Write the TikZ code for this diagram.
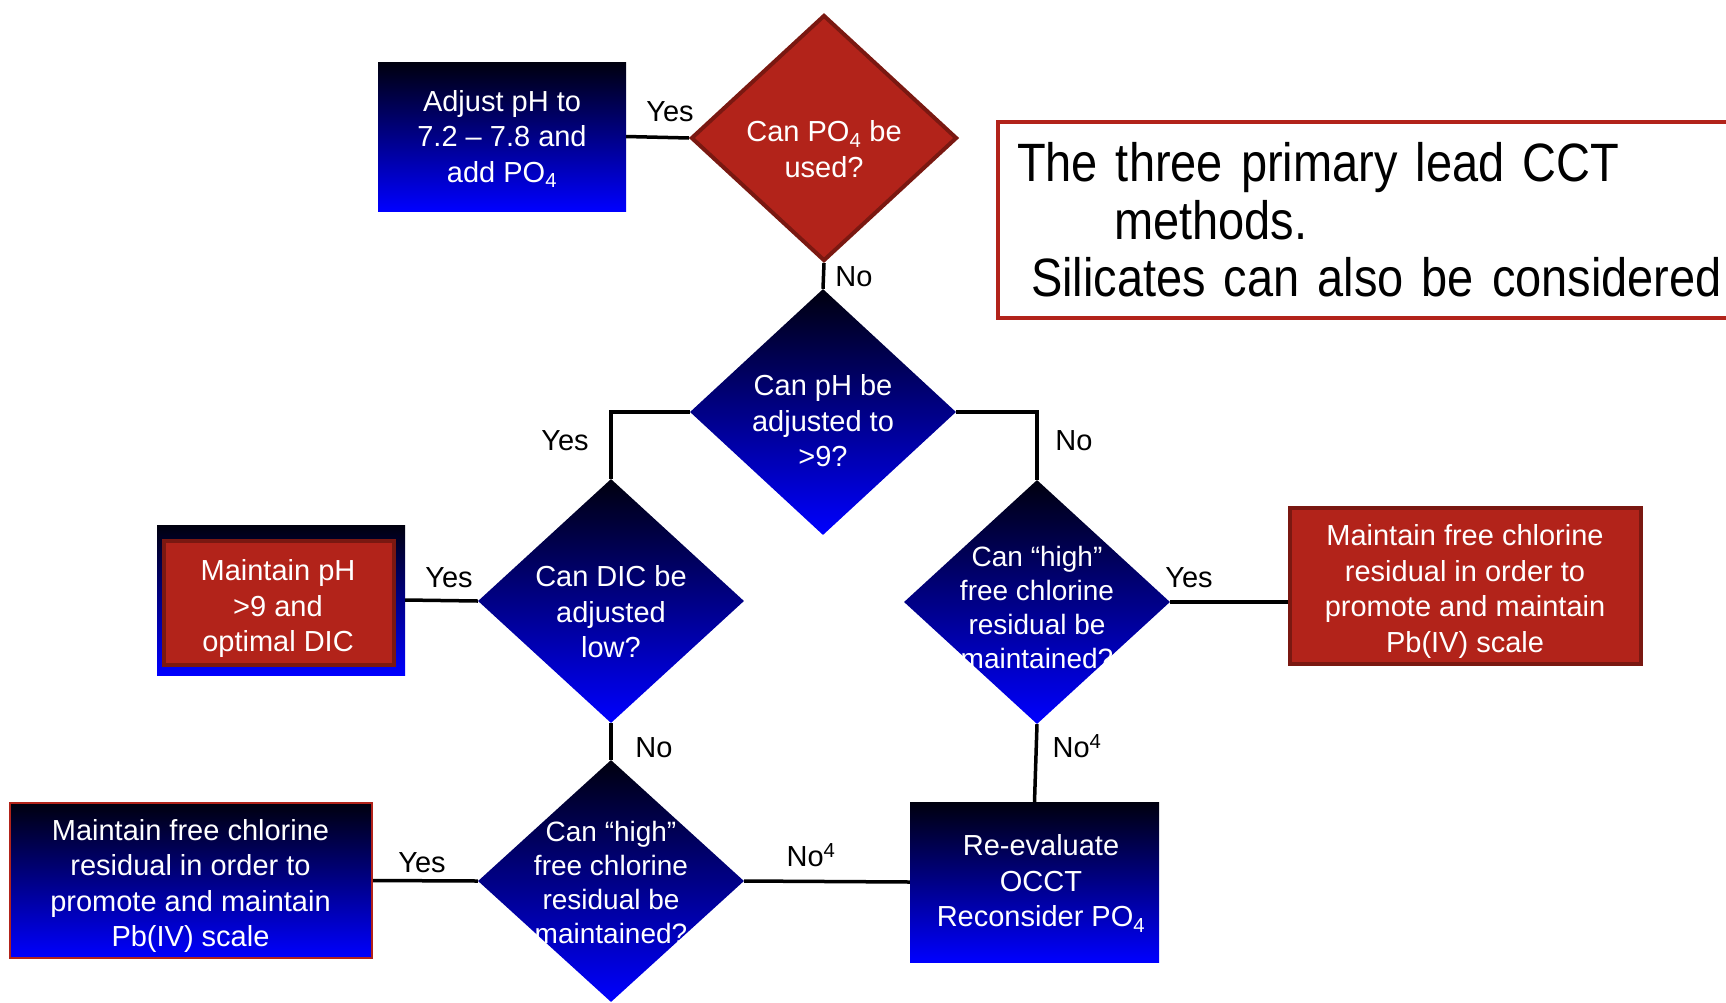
\documentclass[tikz,border=0pt]{standalone}
\usepackage{fontspec}
\setmainfont{Liberation Sans}
\newfontfamily\notefont[FakeStretch=0.87]{Liberation Sans}
\newcommand\notesize{\notefont\fontsize{54}{57.5}\selectfont\spaceskip=10pt plus 3pt minus 2pt\relax}
\usetikzlibrary{shapes.geometric,positioning}
\definecolor{boxred}{RGB}{178,35,26}
\definecolor{edgered}{RGB}{122,24,17}
\definecolor{deepblue}{RGB}{0,0,255}
\definecolor{nightblue}{RGB}{0,0,14}

\begin{document}
\begin{tikzpicture}[
  x=1pt, y=-1pt,
  font=\fontsize{29}{35.5}\selectfont,
  con/.style={line width=3.5pt, black},
  blk/.style={rectangle, align=center, text=white, inner sep=4pt,
              top color=nightblue, bottom color=deepblue},
  redblk/.style={rectangle, align=center, text=white, inner sep=4pt,
                 fill=boxred, draw=edgered, line width=4pt},
  dia/.style={diamond, inner sep=0pt, top color=nightblue, bottom color=deepblue},
  dtxt/.style={align=center, text=white, inner sep=0pt},
  ctxt/.style={dtxt, font=\fontsize{28}{34}\selectfont},
  lbl/.style={inner sep=0pt},
]
\clip (0,0) rectangle (1726,1002);

%% ===== TOP: PHOSPHATE =====
\node[blk, minimum width=248, minimum height=149] (adj) at (502,136.5) {};
\node[dtxt] (adjt) at (502,139) {Adjust pH to\\7.2 -- 7.8 and\\add PO\textsubscript{4}};

\node[diamond, inner sep=0pt, fill=boxred, draw=edgered, line width=4pt,
      minimum width=266, minimum height=246] (pdia) at (824,138) {};
\node[dtxt] (pdiat) at (824,149) {Can PO\textsubscript{4} be\\used?};

\node[draw=boxred, line width=4pt, anchor=north west, minimum width=760,
      minimum height=196, text width=722, inner xsep=19pt, align=left,
      font=\notesize] (note) at (996,120)
    {The three primary lead CCT\\\hspace*{97pt}methods.\\
     \hspace*{14pt}Silicates can also be considered};

%% ===== MIDDLE: PH AND DIC =====
\node[dia, minimum width=266, minimum height=246] (phdia) at (823,412) {};
\node[dtxt] (phdiat) at (823,421) {Can pH be\\adjusted to\\>9?};

\node[dia, minimum width=266, minimum height=244] (dicdia) at (611,601) {};
\node[dtxt] (dicdiat) at (611,612) {Can DIC be\\adjusted\\low?};

\node[blk, minimum width=248, minimum height=150] (mph) at (281,600) {};
\node[redblk, minimum width=230, minimum height=124] (mphin) at (279,603) {};
\node[dtxt] (mphint) at (278,608.5) {Maintain pH\\>9 and\\optimal DIC};

\node[dia, minimum width=266, minimum height=244] (cldia) at (1037,602) {};
\node[ctxt] (cldiat) at (1037,607) {Can “high”\\free chlorine\\residual be\\maintained?};

\node[redblk, minimum width=351, minimum height=156] (rbox) at (1465.5,586) {};
\node[dtxt] (rboxt) at (1465,591.5)
    {Maintain free chlorine\\residual in order to\\promote and maintain\\Pb(IV) scale};

%% ===== BOTTOM: CHLORINE AND RE-EVALUATION =====
\node[dia, minimum width=266, minimum height=242] (bdia) at (611,881) {};
\node[ctxt] (bdiat) at (611,882) {Can “high”\\free chlorine\\residual be\\maintained?};

\node[blk, minimum width=249, minimum height=160] (reval) at (1034.5,882) {};
\node[dtxt] (revalt) at (1041,883.5) {Re-evaluate\\OCCT\\Reconsider PO\textsubscript{4}};

\node[blk, draw=boxred, line width=2pt, minimum width=362, minimum height=155] (blbox) at (191,880.5) {};
\node[dtxt] (blboxt) at (190.5,886)
    {Maintain free chlorine\\residual in order to\\promote and maintain\\Pb(IV) scale};

%% ===== CONNECTORS =====
\draw[con] (adj.east) -- (pdia.west);
\draw[con] (pdia.south) -- (phdia.north);
\draw[con] (phdia.west) -| (dicdia.north);
\draw[con] (phdia.east) -| (cldia.north);
\draw[con] (mph.east) -- (dicdia.west);
\draw[con] (cldia.east) -- (cldia.east -| rbox.west);
\draw[con] (cldia.south) -- (reval.north);
\draw[con] (dicdia.south) -- (bdia.north);
\draw[con] (bdia.east) -- (reval.west);
\draw[con] (blbox.east) -- (bdia.west);

%% ===== BRANCH LABELS =====
\node[lbl] (yes1) at (670,112) {Yes};
\node[lbl] (no1) at (854,277) {No};
\node[lbl] (yes2) at (565,441) {Yes};
\node[lbl] (no2) at (1074,441) {No};
\node[lbl] (yes3) at (449,578) {Yes};
\node[lbl] (yes4) at (1189,578) {Yes};
\node[lbl] (no3) at (1077,746) {No\textsuperscript{4}};
\node[lbl] (no4) at (654,748) {No};
\node[lbl] (no5) at (811,855) {No\textsuperscript{4}};
\node[lbl] (yes5) at (422,863) {Yes};

\end{tikzpicture}
\end{document}
